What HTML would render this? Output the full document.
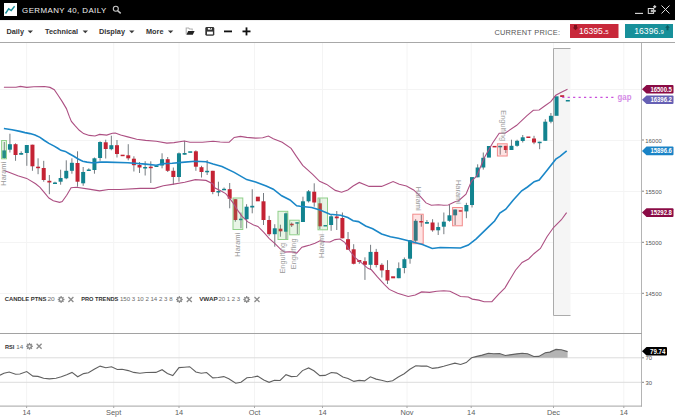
<!DOCTYPE html><html><head><meta charset="utf-8"><style>
html,body{margin:0;padding:0;background:#fff;width:675px;height:420px;overflow:hidden}
svg{display:block;font-family:"Liberation Sans",sans-serif}
.pat{font-size:7.4px;fill:#9a9a9a}
.tagt{font-size:6.4px;font-weight:bold;fill:#fff}
.ax{font-size:5.9px;fill:#555}
.axx{font-size:7.4px;fill:#606060;text-anchor:middle}
.tb{font-size:7.3px;font-weight:bold;fill:#333}
.leg{font-size:6.2px;font-weight:bold;fill:#333}
.legn{font-size:6.2px;fill:#6a6a6a}
</style></head><body>
<svg width="675" height="420" viewBox="0 0 675 420">
<rect x="0" y="0" width="675" height="20" fill="#000"/>
<rect x="4" y="3" width="13" height="13" fill="#fff"/>
<polyline points="5.5,13.5 8.7,8.8 11.2,10.5 14.6,6.3" fill="none" stroke="#1a8f9a" stroke-width="1.4"/>
<text x="22.1" y="12.9" textLength="84.1" lengthAdjust="spacing" style="font-size:7.9px;fill:#f0f0f0">GERMANY 40, DAILY</text>
<g stroke="#c8c8c8" fill="none"><circle cx="115.8" cy="8.8" r="2.5" stroke-width="1.1"/><line x1="117.7" y1="10.7" x2="120.7" y2="13.4" stroke-width="1.5"/></g>
<line x1="635" y1="13.4" x2="643" y2="13.4" stroke="#ddd" stroke-width="1.1"/>
<rect x="648.3" y="8.5" width="5.3" height="4.9" fill="none" stroke="#ddd" stroke-width="1"/><path d="M650.8,9.6 L655.8,10 L655.8,12 L650.8,12.3 Z" fill="#bbb"/><path d="M654.7,5 L656.5,6.8 L654.7,8.6 L652.9,6.8 Z" fill="#d0d0d0"/>
<path d="M661.5,5.5 L669.5,13.5 M669.5,5.5 L661.5,13.5" stroke="#ddd" stroke-width="1"/>
<rect x="0" y="20" width="675" height="22" fill="#fff"/>
<rect x="0" y="42" width="675" height="1" fill="#a8a8a8"/><rect x="0" y="20" width="675" height="1" fill="#f0f0f0"/>
<text x="6.5" y="34.2" class="tb">Daily</text>
<path d="M27.6,30.4 L33.0,30.4 L30.3,33.2 Z" fill="#3a3a3a"/>
<text x="45.0" y="34.2" class="tb">Technical</text>
<path d="M82.6,30.4 L88.0,30.4 L85.3,33.2 Z" fill="#3a3a3a"/>
<text x="99.0" y="34.2" class="tb">Display</text>
<path d="M129.1,30.4 L134.5,30.4 L131.8,33.2 Z" fill="#3a3a3a"/>
<text x="146.0" y="34.2" class="tb">More</text>
<path d="M167.9,30.4 L173.3,30.4 L170.6,33.2 Z" fill="#3a3a3a"/>
<path d="M186.2,34.3 L186.2,28 L188.6,28 L189.6,29 L192.2,29 L192.2,30.6" fill="none" stroke="#b0b0b0" stroke-width="1.1"/><path d="M188.2,31 L194.6,31 L192.8,34.8 L186.4,34.8 Z" fill="#222"/>
<rect x="205.3" y="27" width="9" height="8.7" rx="1.4" fill="#333"/><rect x="207.9" y="28" width="4" height="1.6" fill="#fff"/><rect x="210.1" y="28" width="1" height="1.1" fill="#444"/><rect x="207" y="31.6" width="5.9" height="2.8" fill="#fff"/>
<rect x="224" y="30.5" width="8" height="1.8" fill="#111"/>
<rect x="242.5" y="30.5" width="8" height="1.8" fill="#111"/><rect x="245.6" y="27.4" width="1.8" height="8" fill="#111"/>
<text x="494.4" y="34.7" textLength="65.6" lengthAdjust="spacing" style="font-size:7.4px;fill:#555">CURRENT PRICE:</text>
<rect x="570" y="24" width="48.5" height="14" fill="#c8283a"/>
<path d="M574,25 L577,25 L577,27.5 L578.3,27.5 L575.5,30.3 L572.7,27.5 L574,27.5 Z" fill="#7a0f1c"/>
<text x="579" y="34" style="font-size:8.6px;fill:#fff">16395.<tspan style="font-size:6px">5</tspan></text>
<rect x="625" y="24" width="48" height="14" fill="#17909a"/>
<path d="M666.5,30.3 L668.5,30.3 L668.5,27.8 L669.8,27.8 L667.5,25 L665.2,27.8 L666.5,27.8 Z" fill="#0b5a60"/>
<text x="634.3" y="34" style="font-size:8.6px;fill:#fff">16396.<tspan style="font-size:6px">9</tspan></text>
<line x1="26.6" y1="43" x2="26.6" y2="408" stroke="#f4f4f4" stroke-width="1"/>
<line x1="113.7" y1="43" x2="113.7" y2="408" stroke="#f4f4f4" stroke-width="1"/>
<line x1="179.0" y1="43" x2="179.0" y2="408" stroke="#f4f4f4" stroke-width="1"/>
<line x1="254.5" y1="43" x2="254.5" y2="408" stroke="#f4f4f4" stroke-width="1"/>
<line x1="322.5" y1="43" x2="322.5" y2="408" stroke="#f4f4f4" stroke-width="1"/>
<line x1="407.0" y1="43" x2="407.0" y2="408" stroke="#f4f4f4" stroke-width="1"/>
<line x1="471.2" y1="43" x2="471.2" y2="408" stroke="#f4f4f4" stroke-width="1"/>
<line x1="553.5" y1="43" x2="553.5" y2="408" stroke="#f4f4f4" stroke-width="1"/>
<line x1="623.8" y1="43" x2="623.8" y2="408" stroke="#f4f4f4" stroke-width="1"/>
<line x1="0" y1="89.5" x2="641" y2="89.5" stroke="#f4f4f4" stroke-width="1"/>
<line x1="0" y1="140.5" x2="641" y2="140.5" stroke="#f4f4f4" stroke-width="1"/>
<line x1="0" y1="191.5" x2="641" y2="191.5" stroke="#f4f4f4" stroke-width="1"/>
<line x1="0" y1="242.5" x2="641" y2="242.5" stroke="#f4f4f4" stroke-width="1"/>
<line x1="0" y1="293.5" x2="641" y2="293.5" stroke="#f4f4f4" stroke-width="1"/>
<rect x="553" y="48" width="17.5" height="268" fill="#f5f5f5"/>
<path d="M570.5,48.5 L553.5,48.5 L553.5,315.5 L570.5,315.5" fill="none" stroke="#ababab" stroke-width="1"/>
<g><rect x="3.77" y="142.0" width="1" height="17.0" fill="#767c81"/>
<rect x="9.41" y="133.7" width="1" height="18.8" fill="#767c81"/>
<rect x="15.04" y="143.3" width="1" height="17.5" fill="#767c81"/>
<rect x="20.68" y="151.3" width="1" height="3.4" fill="#767c81"/>
<rect x="26.31" y="145.0" width="1" height="20.8" fill="#767c81"/>
<rect x="31.95" y="144.7" width="1" height="26.1" fill="#767c81"/>
<rect x="37.58" y="158.3" width="1" height="15.9" fill="#767c81"/>
<rect x="43.22" y="160.8" width="1" height="20.9" fill="#767c81"/>
<rect x="48.85" y="175.0" width="1" height="19.2" fill="#767c81"/>
<rect x="54.49" y="181.7" width="1" height="2.0" fill="#767c81"/>
<rect x="60.13" y="169.7" width="1" height="15.0" fill="#767c81"/>
<rect x="65.76" y="160.3" width="1" height="18.9" fill="#767c81"/>
<rect x="71.40" y="158.3" width="1" height="15.4" fill="#767c81"/>
<rect x="77.03" y="151.3" width="1" height="35.4" fill="#767c81"/>
<rect x="82.67" y="167.0" width="1" height="18.8" fill="#767c81"/>
<rect x="88.30" y="168.3" width="1" height="2.4" fill="#767c81"/>
<rect x="93.94" y="157.5" width="1" height="16.2" fill="#767c81"/>
<rect x="99.57" y="141.3" width="1" height="19.5" fill="#767c81"/>
<rect x="105.21" y="139.7" width="1" height="18.8" fill="#767c81"/>
<rect x="110.84" y="135.7" width="1" height="14.6" fill="#767c81"/>
<rect x="116.48" y="140.0" width="1" height="17.5" fill="#767c81"/>
<rect x="127.75" y="144.2" width="1" height="16.1" fill="#767c81"/>
<rect x="133.39" y="156.3" width="1" height="15.2" fill="#767c81"/>
<rect x="139.02" y="162.0" width="1" height="11.0" fill="#767c81"/>
<rect x="144.66" y="161.2" width="1" height="14.3" fill="#767c81"/>
<rect x="150.29" y="161.3" width="1" height="21.7" fill="#767c81"/>
<rect x="161.56" y="153.3" width="1" height="15.0" fill="#767c81"/>
<rect x="167.20" y="157.0" width="1" height="15.0" fill="#767c81"/>
<rect x="172.84" y="167.5" width="1" height="17.2" fill="#767c81"/>
<rect x="178.47" y="152.5" width="1" height="29.2" fill="#767c81"/>
<rect x="184.11" y="140.8" width="1" height="13.9" fill="#767c81"/>
<rect x="195.38" y="150.3" width="1" height="20.5" fill="#767c81"/>
<rect x="201.01" y="165.8" width="1" height="11.7" fill="#767c81"/>
<rect x="206.65" y="160.0" width="1" height="15.0" fill="#767c81"/>
<rect x="212.28" y="170.8" width="1" height="23.4" fill="#767c81"/>
<rect x="217.92" y="181.7" width="1" height="14.5" fill="#767c81"/>
<rect x="223.55" y="187.5" width="1" height="2.5" fill="#767c81"/>
<rect x="229.19" y="183.0" width="1" height="25.3" fill="#767c81"/>
<rect x="234.83" y="199.2" width="1" height="22.5" fill="#767c81"/>
<rect x="240.46" y="212.5" width="1" height="15.8" fill="#767c81"/>
<rect x="246.10" y="204.2" width="1" height="24.1" fill="#767c81"/>
<rect x="251.73" y="189.2" width="1" height="24.1" fill="#767c81"/>
<rect x="263.00" y="193.0" width="1" height="32.0" fill="#767c81"/>
<rect x="268.64" y="215.8" width="1" height="20.0" fill="#767c81"/>
<rect x="274.27" y="224.2" width="1" height="22.5" fill="#767c81"/>
<rect x="279.91" y="224.7" width="1" height="12.0" fill="#767c81"/>
<rect x="285.55" y="212.5" width="1" height="26.7" fill="#767c81"/>
<rect x="291.18" y="222.5" width="1" height="4.5" fill="#767c81"/>
<rect x="296.82" y="222.2" width="1" height="12.0" fill="#767c81"/>
<rect x="302.45" y="196.7" width="1" height="25.3" fill="#767c81"/>
<rect x="308.09" y="190.0" width="1" height="12.5" fill="#767c81"/>
<rect x="313.72" y="183.3" width="1" height="23.4" fill="#767c81"/>
<rect x="319.36" y="198.3" width="1" height="30.9" fill="#767c81"/>
<rect x="330.63" y="215.0" width="1" height="15.8" fill="#767c81"/>
<rect x="336.26" y="211.0" width="1" height="19.0" fill="#767c81"/>
<rect x="341.90" y="212.5" width="1" height="25.8" fill="#767c81"/>
<rect x="347.54" y="232.0" width="1" height="17.7" fill="#767c81"/>
<rect x="353.17" y="244.2" width="1" height="20.2" fill="#767c81"/>
<rect x="358.81" y="260.0" width="1" height="3.8" fill="#767c81"/>
<rect x="364.44" y="257.3" width="1" height="22.6" fill="#767c81"/>
<rect x="370.08" y="244.8" width="1" height="25.0" fill="#767c81"/>
<rect x="375.71" y="248.9" width="1" height="18.5" fill="#767c81"/>
<rect x="381.35" y="263.2" width="1" height="14.3" fill="#767c81"/>
<rect x="386.98" y="260.2" width="1" height="23.8" fill="#767c81"/>
<rect x="398.25" y="262.4" width="1" height="15.8" fill="#767c81"/>
<rect x="403.89" y="257.5" width="1" height="15.8" fill="#767c81"/>
<rect x="409.53" y="240.0" width="1" height="23.7" fill="#767c81"/>
<rect x="415.16" y="219.2" width="1" height="23.3" fill="#767c81"/>
<rect x="420.80" y="214.7" width="1" height="12.0" fill="#767c81"/>
<rect x="426.43" y="220.0" width="1" height="3.7" fill="#767c81"/>
<rect x="432.07" y="219.2" width="1" height="12.5" fill="#767c81"/>
<rect x="437.70" y="222.5" width="1" height="12.5" fill="#767c81"/>
<rect x="443.34" y="212.5" width="1" height="21.7" fill="#767c81"/>
<rect x="448.97" y="205.0" width="1" height="16.7" fill="#767c81"/>
<rect x="454.61" y="209.5" width="1" height="15.5" fill="#767c81"/>
<rect x="465.88" y="202.8" width="1" height="15.4" fill="#767c81"/>
<rect x="471.52" y="177.1" width="1" height="30.4" fill="#767c81"/>
<rect x="477.15" y="164.3" width="1" height="13.0" fill="#767c81"/>
<rect x="482.79" y="152.5" width="1" height="17.1" fill="#767c81"/>
<rect x="499.69" y="145.8" width="1" height="8.9" fill="#767c81"/>
<rect x="505.33" y="145.8" width="1" height="7.2" fill="#767c81"/>
<rect x="510.97" y="139.7" width="1" height="10.3" fill="#767c81"/>
<rect x="516.60" y="139.7" width="1" height="7.0" fill="#767c81"/>
<rect x="522.24" y="135.0" width="1" height="7.5" fill="#767c81"/>
<rect x="533.51" y="135.8" width="1" height="8.4" fill="#767c81"/>
<rect x="539.14" y="141.7" width="1" height="7.5" fill="#767c81"/>
<rect x="544.78" y="119.2" width="1" height="21.6" fill="#767c81"/>
<rect x="550.41" y="113.0" width="1" height="10.3" fill="#767c81"/></g><g><rect x="2.27" y="150.4" width="4" height="7.7" fill="#12838f"/>
<rect x="7.91" y="144.2" width="4" height="5.5" fill="#12838f"/>
<rect x="13.54" y="144.2" width="4" height="10.8" fill="#c42334"/>
<rect x="19.18" y="153.0" width="4" height="1.7" fill="#12838f"/>
<rect x="24.81" y="145.0" width="4" height="8.0" fill="#12838f"/>
<rect x="30.45" y="144.7" width="4" height="21.6" fill="#c42334"/>
<rect x="36.08" y="166.7" width="4" height="1.5" fill="#c42334"/>
<rect x="41.72" y="168.0" width="4" height="12.0" fill="#c42334"/>
<rect x="47.35" y="180.8" width="4" height="1.7" fill="#c42334"/>
<rect x="52.99" y="182.5" width="4" height="1.5" fill="#12838f"/>
<rect x="58.63" y="178.0" width="4" height="3.7" fill="#12838f"/>
<rect x="64.26" y="170.8" width="4" height="7.5" fill="#12838f"/>
<rect x="69.90" y="162.8" width="4" height="8.0" fill="#12838f"/>
<rect x="75.53" y="163.0" width="4" height="18.7" fill="#c42334"/>
<rect x="81.17" y="172.0" width="4" height="11.3" fill="#12838f"/>
<rect x="86.80" y="169.5" width="4" height="1.5" fill="#12838f"/>
<rect x="92.44" y="158.3" width="4" height="11.7" fill="#12838f"/>
<rect x="98.07" y="142.0" width="4" height="16.0" fill="#12838f"/>
<rect x="103.71" y="142.3" width="4" height="6.7" fill="#c42334"/>
<rect x="109.34" y="145.2" width="4" height="4.0" fill="#12838f"/>
<rect x="114.98" y="145.2" width="4" height="8.8" fill="#c42334"/>
<rect x="120.62" y="154.7" width="4" height="1.5" fill="#c42334"/>
<rect x="126.25" y="155.3" width="4" height="3.0" fill="#c42334"/>
<rect x="131.89" y="158.7" width="4" height="6.5" fill="#c42334"/>
<rect x="137.52" y="165.0" width="4" height="2.5" fill="#c42334"/>
<rect x="143.16" y="167.0" width="4" height="1.5" fill="#12838f"/>
<rect x="148.79" y="166.7" width="4" height="1.5" fill="#c42334"/>
<rect x="154.43" y="165.5" width="4" height="1.5" fill="#12838f"/>
<rect x="160.06" y="159.2" width="4" height="6.3" fill="#12838f"/>
<rect x="165.70" y="159.2" width="4" height="11.6" fill="#c42334"/>
<rect x="171.34" y="170.8" width="4" height="6.2" fill="#c42334"/>
<rect x="176.97" y="153.3" width="4" height="23.7" fill="#12838f"/>
<rect x="182.61" y="153.0" width="4" height="1.7" fill="#12838f"/>
<rect x="188.24" y="151.3" width="4" height="1.5" fill="#12838f"/>
<rect x="193.88" y="151.3" width="4" height="15.4" fill="#c42334"/>
<rect x="199.51" y="167.2" width="4" height="4.8" fill="#c42334"/>
<rect x="205.15" y="170.8" width="4" height="1.5" fill="#12838f"/>
<rect x="210.78" y="170.8" width="4" height="21.2" fill="#c42334"/>
<rect x="216.42" y="191.0" width="4" height="1.5" fill="#12838f"/>
<rect x="222.05" y="188.8" width="4" height="1.5" fill="#12838f"/>
<rect x="227.69" y="189.2" width="4" height="9.5" fill="#c42334"/>
<rect x="233.33" y="199.2" width="4" height="20.8" fill="#c42334"/>
<rect x="238.96" y="218.7" width="4" height="1.5" fill="#12838f"/>
<rect x="244.60" y="206.7" width="4" height="12.5" fill="#12838f"/>
<rect x="250.23" y="205.8" width="4" height="1.7" fill="#12838f"/>
<rect x="255.87" y="196.7" width="4" height="4.6" fill="#c42334"/>
<rect x="261.50" y="201.3" width="4" height="18.7" fill="#c42334"/>
<rect x="267.14" y="220.0" width="4" height="14.2" fill="#c42334"/>
<rect x="272.77" y="228.3" width="4" height="5.9" fill="#12838f"/>
<rect x="278.41" y="228.7" width="4" height="2.6" fill="#c42334"/>
<rect x="284.05" y="213.3" width="4" height="18.4" fill="#12838f"/>
<rect x="289.68" y="223.7" width="4" height="1.6" fill="#c42334"/>
<rect x="295.32" y="222.2" width="4" height="1.5" fill="#12838f"/>
<rect x="300.95" y="201.3" width="4" height="20.7" fill="#12838f"/>
<rect x="306.59" y="191.3" width="4" height="10.0" fill="#12838f"/>
<rect x="312.22" y="191.7" width="4" height="10.8" fill="#c42334"/>
<rect x="317.86" y="203.3" width="4" height="23.0" fill="#c42334"/>
<rect x="323.49" y="225.0" width="4" height="1.5" fill="#12838f"/>
<rect x="329.13" y="216.3" width="4" height="8.7" fill="#12838f"/>
<rect x="334.76" y="216.5" width="4" height="1.8" fill="#c42334"/>
<rect x="340.40" y="218.0" width="4" height="20.3" fill="#c42334"/>
<rect x="346.04" y="239.2" width="4" height="10.5" fill="#c42334"/>
<rect x="351.67" y="249.3" width="4" height="14.5" fill="#c42334"/>
<rect x="357.31" y="260.0" width="4" height="2.0" fill="#c42334"/>
<rect x="362.94" y="261.2" width="4" height="3.6" fill="#c42334"/>
<rect x="368.58" y="251.9" width="4" height="12.9" fill="#12838f"/>
<rect x="374.21" y="251.9" width="4" height="13.1" fill="#c42334"/>
<rect x="379.85" y="264.8" width="4" height="5.6" fill="#c42334"/>
<rect x="385.48" y="270.0" width="4" height="10.5" fill="#c42334"/>
<rect x="391.12" y="276.3" width="4" height="2.0" fill="#c42334"/>
<rect x="396.75" y="268.2" width="4" height="10.0" fill="#12838f"/>
<rect x="402.39" y="259.2" width="4" height="8.8" fill="#12838f"/>
<rect x="408.03" y="240.3" width="4" height="18.4" fill="#12838f"/>
<rect x="413.66" y="220.8" width="4" height="19.9" fill="#12838f"/>
<rect x="419.30" y="221.0" width="4" height="1.5" fill="#c42334"/>
<rect x="424.93" y="222.0" width="4" height="1.7" fill="#12838f"/>
<rect x="430.57" y="222.5" width="4" height="7.8" fill="#c42334"/>
<rect x="436.20" y="227.0" width="4" height="3.3" fill="#12838f"/>
<rect x="441.84" y="221.7" width="4" height="5.0" fill="#12838f"/>
<rect x="447.47" y="215.3" width="4" height="5.5" fill="#12838f"/>
<rect x="453.11" y="209.5" width="4" height="5.8" fill="#12838f"/>
<rect x="458.75" y="210.2" width="4" height="1.5" fill="#c42334"/>
<rect x="464.38" y="205.0" width="4" height="6.4" fill="#12838f"/>
<rect x="470.02" y="177.1" width="4" height="27.9" fill="#12838f"/>
<rect x="475.65" y="167.5" width="4" height="9.8" fill="#12838f"/>
<rect x="481.29" y="157.8" width="4" height="9.7" fill="#12838f"/>
<rect x="486.92" y="146.0" width="4" height="11.6" fill="#12838f"/>
<rect x="492.56" y="145.9" width="4" height="1.5" fill="#c42334"/>
<rect x="498.19" y="145.8" width="4" height="1.5" fill="#12838f"/>
<rect x="503.83" y="145.8" width="4" height="4.2" fill="#c42334"/>
<rect x="509.47" y="145.8" width="4" height="4.2" fill="#12838f"/>
<rect x="515.10" y="140.8" width="4" height="5.0" fill="#12838f"/>
<rect x="520.74" y="137.3" width="4" height="3.7" fill="#12838f"/>
<rect x="526.37" y="136.5" width="4" height="1.5" fill="#c42334"/>
<rect x="532.01" y="138.5" width="4" height="4.0" fill="#c42334"/>
<rect x="537.64" y="141.7" width="4" height="1.5" fill="#12838f"/>
<rect x="543.28" y="121.7" width="4" height="19.1" fill="#12838f"/>
<rect x="548.91" y="115.8" width="4" height="5.9" fill="#12838f"/>
<rect x="554.55" y="96.3" width="4" height="19.5" fill="#12838f"/>
<rect x="560.18" y="95.2" width="4" height="1.8" fill="#c42334"/>
<rect x="565.82" y="100.0" width="4" height="1.5" fill="#12838f"/></g>
<rect x="1.6" y="140.5" width="4.8" height="18.3" fill="rgba(120,195,105,0.17)" stroke="#8fd08a" stroke-width="1"/>
<rect x="233.0" y="198.0" width="9.8" height="31.5" fill="rgba(120,195,105,0.17)" stroke="#8fd08a" stroke-width="1"/>
<rect x="278.0" y="211.3" width="9.8" height="28.2" fill="rgba(120,195,105,0.17)" stroke="#8fd08a" stroke-width="1"/>
<rect x="289.7" y="220.2" width="9.5" height="14.6" fill="rgba(120,195,105,0.17)" stroke="#8fd08a" stroke-width="1"/>
<rect x="318.0" y="198.0" width="9.5" height="31.8" fill="rgba(120,195,105,0.17)" stroke="#8fd08a" stroke-width="1"/>
<rect x="412.8" y="214.2" width="10.4" height="29.5" fill="rgba(245,70,70,0.15)" stroke="#f28a8a" stroke-width="1"/>
<rect x="452.6" y="207.5" width="9.7" height="18.3" fill="rgba(245,70,70,0.15)" stroke="#f28a8a" stroke-width="1"/>
<rect x="497.4" y="143.8" width="9.8" height="12.2" fill="rgba(245,70,70,0.15)" stroke="#f28a8a" stroke-width="1"/>
<polyline points="3.9,87.2 16.0,87.2 20.4,86.4 26.7,87.4 33.8,86.7 44.4,86.5 50.0,87.4 54.3,89.7 57.9,95.0 62.1,101.4 66.4,108.6 69.3,116.4 71.4,121.4 75.0,125.7 79.3,130.3 83.6,133.6 89.3,135.4 95.0,136.0 99.6,134.4 106.7,135.1 112.4,133.3 115.3,133.0 120.7,135.1 127.8,136.9 136.7,139.2 145.6,140.4 156.2,141.3 166.9,143.1 174.0,142.6 184.3,141.0 190.0,142.2 202.4,142.2 213.1,141.3 220.2,142.0 224.4,142.2 229.2,142.2 234.2,137.4 240.4,136.4 246.7,137.4 255.6,138.1 262.7,137.8 268.4,136.0 273.3,138.7 282.2,142.2 291.1,148.4 296.4,156.4 302.7,165.3 312.4,174.2 319.6,181.3 326.7,184.4 335.3,190.4 341.6,192.2 347.8,189.9 353.1,186.0 359.3,182.4 369.1,186.4 381.6,186.4 386.9,184.2 393.1,181.6 399.3,184.2 406.4,186.0 413.6,189.9 418.9,194.9 426.0,202.9 431.3,205.2 438.4,204.7 443.8,205.2 448.3,205.0 455.0,201.7 458.6,200.7 466.0,194.2 471.4,181.4 476.8,176.0 484.3,157.8 492.8,142.8 499.2,133.3 505.0,133.2 516.7,125.3 526.7,115.8 533.3,110.3 539.2,110.0 545.0,105.8 550.8,101.7 555.8,95.3 560.8,92.5 567.5,89.2" fill="none" stroke="#ad5083" stroke-width="1.1"/>
<polyline points="3.9,170.4 8.9,172.2 17.8,175.8 26.7,178.4 35.6,183.8 40.0,187.3 44.4,192.7 48.9,198.0 53.3,200.7 59.6,202.4 62.2,201.6 66.7,195.3 71.1,187.7 76.4,187.3 88.9,189.1 99.6,190.9 108.4,189.5 120.0,189.5 140.2,188.4 154.4,188.4 163.3,185.8 172.2,184.4 184.7,182.2 195.3,179.6 206.0,180.4 213.1,184.0 215.0,188.1 220.7,190.7 225.7,193.6 229.3,197.9 233.6,203.6 237.9,210.7 242.1,216.4 247.9,221.9 253.6,225.0 257.9,226.4 263.6,232.1 269.3,238.6 275.0,243.6 281.0,249.6 284.8,252.1 289.5,251.7 293.3,252.1 296.7,253.1 301.9,247.2 305.0,246.4 310.0,245.0 315.0,243.2 320.0,240.8 325.0,241.8 330.0,242.0 335.0,239.6 340.0,239.0 345.0,242.6 349.6,250.5 354.8,257.3 361.9,263.2 367.9,268.3 371.4,269.8 377.4,276.9 384.5,284.6 389.3,289.4 397.6,293.3 408.2,296.5 415.3,295.1 421.6,291.9 429.6,292.4 436.7,291.2 443.8,290.7 450.0,291.2 460.5,296.5 468.3,297.0 472.3,299.1 478.8,300.1 484.1,301.7 491.9,301.7 498.5,294.4 505.0,287.8 515.5,270.2 522.1,262.4 528.6,259.0 533.9,253.7 540.4,248.5 547.0,236.7 553.5,227.5 561.4,219.7 566.6,212.6" fill="none" stroke="#ad5083" stroke-width="1.1"/>
<polyline points="3.9,128.5 12.0,129.8 20.0,131.4 25.0,132.6 30.0,133.6 35.0,135.0 40.0,137.4 44.4,140.5 48.9,143.4 54.2,146.1 57.8,148.3 60.9,150.3 65.3,151.4 69.3,153.7 73.8,156.3 78.2,159.0 82.7,161.2 87.1,162.1 91.6,162.7 95.1,162.7 100.0,162.1 106.7,162.1 127.8,162.7 145.6,164.1 156.2,165.3 163.3,163.6 172.2,163.2 184.7,162.1 195.3,161.2 206.0,161.8 213.1,164.1 222.0,166.6 234.2,172.4 246.7,179.6 255.6,181.9 266.2,186.1 273.3,189.2 281.7,195.8 290.0,200.0 296.7,205.8 300.0,206.3 311.7,207.5 320.0,210.0 330.0,214.2 340.7,215.3 347.8,217.6 353.1,220.7 358.4,221.6 365.6,226.0 372.7,228.7 381.6,234.0 390.4,236.7 398.3,238.3 408.3,240.8 416.7,243.0 422.4,244.4 432.2,248.5 440.2,247.5 450.0,247.7 460.5,248.0 468.3,245.1 476.2,238.8 489.3,226.2 494.6,221.0 499.8,213.1 505.8,209.2 513.3,200.0 521.7,190.8 527.5,187.0 534.2,181.7 539.2,180.0 546.7,170.8 555.8,159.2 560.0,156.3 566.7,150.8" fill="none" stroke="#1a87c8" stroke-width="1.6"/>
<text transform="translate(6.4,185.7) rotate(-90)" class="pat">Harami</text>
<text transform="translate(240.2,256.7) rotate(-90)" class="pat">Harami</text>
<text transform="translate(285.4,273.6) rotate(-90)" class="pat">Engulfing</text>
<text transform="translate(295.8,269.3) rotate(-90)" class="pat">Engulfing</text>
<text transform="translate(324.0,257.9) rotate(-90)" class="pat">Harami</text>
<text transform="translate(416.3,186.8) rotate(90)" class="pat">Harami</text>
<text transform="translate(455.5,180.0) rotate(90)" class="pat">Harami</text>
<text transform="translate(501.3,110.2) rotate(90)" class="pat">Engulfing</text>
<line x1="562.2" y1="97.3" x2="615" y2="97.3" stroke="#c94fdc" stroke-width="1.2" stroke-dasharray="2.2 3.25"/>
<text x="617.55" y="99.70" textLength="13.90" lengthAdjust="spacingAndGlyphs" style="font-size:8.2px;font-weight:bold;fill:#d48ae6">gap</text>
<rect x="641" y="43" width="1" height="363.5" fill="#b4b4b4"/>
<rect x="642" y="139.5" width="2" height="1" fill="#888"/>
<text x="645.3" y="142.6" class="ax">16000</text>
<rect x="642" y="190.7" width="2" height="1" fill="#888"/>
<text x="645.3" y="193.8" class="ax">15500</text>
<rect x="642" y="241.8" width="2" height="1" fill="#888"/>
<text x="645.3" y="244.9" class="ax">15000</text>
<rect x="642" y="292.8" width="2" height="1" fill="#888"/>
<text x="645.3" y="295.9" class="ax">14500</text>
<path d="M642.0,89.3 L646.5,85.0 L672.5,85.0 Q673.5,85.0 673.5,86.0 L673.5,92.6 Q673.5,93.6 672.5,93.6 L646.5,93.6 Z" fill="#8a0b45"/><text x="650.45" y="91.55" textLength="21.50" lengthAdjust="spacingAndGlyphs" class="tagt">16500.5</text>
<path d="M642.0,99.8 L646.5,95.5 L672.5,95.5 Q673.5,95.5 673.5,96.5 L673.5,103.1 Q673.5,104.1 672.5,104.1 L646.5,104.1 Z" fill="#6660b4"/><text x="650.45" y="102.05" textLength="21.50" lengthAdjust="spacingAndGlyphs" class="tagt">16396.2</text>
<path d="M642.0,150.9 L646.5,146.6 L672.5,146.6 Q673.5,146.6 673.5,147.6 L673.5,154.2 Q673.5,155.2 672.5,155.2 L646.5,155.2 Z" fill="#1a83c6"/><text x="650.45" y="153.15" textLength="21.50" lengthAdjust="spacingAndGlyphs" class="tagt">15896.6</text>
<path d="M642.0,212.6 L646.5,208.3 L672.5,208.3 Q673.5,208.3 673.5,209.3 L673.5,215.9 Q673.5,216.9 672.5,216.9 L646.5,216.9 Z" fill="#8a0b45"/><text x="650.45" y="214.85" textLength="21.50" lengthAdjust="spacingAndGlyphs" class="tagt">15292.8</text>
<text x="4.75" y="301.00" textLength="41.80" lengthAdjust="spacingAndGlyphs" class="leg">CANDLE PTNS</text>
<text x="47.45" y="301.00" textLength="7.30" lengthAdjust="spacingAndGlyphs" class="legn">20</text>
<g transform="translate(61.1,299.5)"><g stroke="#8c8c8c" stroke-width="1.3"><line x1="0" y1="-3.4" x2="0" y2="3.4"/><line x1="-3.4" y1="0" x2="3.4" y2="0"/><line x1="-2.4" y1="-2.4" x2="2.4" y2="2.4"/><line x1="-2.4" y1="2.4" x2="2.4" y2="-2.4"/></g><circle r="2.5" fill="#8c8c8c"/><circle r="1.15" fill="#fff"/></g>
<g transform="translate(70.9,299.5)" stroke="#8c8c8c" stroke-width="1.3"><line x1="-2.5" y1="-2.5" x2="2.5" y2="2.5"/><line x1="-2.5" y1="2.5" x2="2.5" y2="-2.5"/></g>
<text x="81.25" y="301.00" textLength="37.10" lengthAdjust="spacingAndGlyphs" class="leg">PRO TRENDS</text>
<text x="119.95" y="301.00" textLength="52.60" lengthAdjust="spacingAndGlyphs" class="legn">150 3 10 2 14 2 3 8</text>
<g transform="translate(179.4,299.5)"><g stroke="#8c8c8c" stroke-width="1.3"><line x1="0" y1="-3.4" x2="0" y2="3.4"/><line x1="-3.4" y1="0" x2="3.4" y2="0"/><line x1="-2.4" y1="-2.4" x2="2.4" y2="2.4"/><line x1="-2.4" y1="2.4" x2="2.4" y2="-2.4"/></g><circle r="2.5" fill="#8c8c8c"/><circle r="1.15" fill="#fff"/></g>
<g transform="translate(189.3,299.5)" stroke="#8c8c8c" stroke-width="1.3"><line x1="-2.5" y1="-2.5" x2="2.5" y2="2.5"/><line x1="-2.5" y1="2.5" x2="2.5" y2="-2.5"/></g>
<text x="199.15" y="301.00" textLength="18.70" lengthAdjust="spacingAndGlyphs" class="leg">VWAP</text>
<text x="218.45" y="301.00" textLength="21.70" lengthAdjust="spacingAndGlyphs" class="legn">20 1 2 3</text>
<g transform="translate(246.7,299.5)"><g stroke="#8c8c8c" stroke-width="1.3"><line x1="0" y1="-3.4" x2="0" y2="3.4"/><line x1="-3.4" y1="0" x2="3.4" y2="0"/><line x1="-2.4" y1="-2.4" x2="2.4" y2="2.4"/><line x1="-2.4" y1="2.4" x2="2.4" y2="-2.4"/></g><circle r="2.5" fill="#8c8c8c"/><circle r="1.15" fill="#fff"/></g>
<g transform="translate(257.0,299.5)" stroke="#8c8c8c" stroke-width="1.3"><line x1="-2.5" y1="-2.5" x2="2.5" y2="2.5"/><line x1="-2.5" y1="2.5" x2="2.5" y2="-2.5"/></g>
<rect x="0" y="333" width="642" height="1" fill="#a2a2a2"/>
<line x1="0" y1="357.8" x2="641" y2="357.8" stroke="#dcdcdc" stroke-width="1"/>
<line x1="0" y1="382.3" x2="641" y2="382.3" stroke="#dcdcdc" stroke-width="1"/>
<polygon points="471.6,357.8 471.6,357.8 476.9,356.4 482.2,355.1 488.4,353.3 493.8,353.7 499.5,353.5 505.3,355.5 511.6,354.6 516.9,353.9 522.2,353.2 527.6,353.7 533.8,356.5 538.8,356.4 545.3,352.8 549.8,352.1 556.0,349.4 561.3,349.8 567.6,351.6 567.6,357.8" fill="#b4b4b4"/>
<polyline points="0.0,375.2 3.9,373.2 9.2,372.0 15.6,374.3 19.9,374.0 26.7,371.6 32.9,376.1 37.9,376.4 43.6,378.2 49.4,378.9 56.0,378.2 61.3,376.8 66.7,374.7 72.0,372.4 77.7,376.8 83.6,373.6 88.4,372.7 94.2,369.3 100.1,366.1 105.8,367.7 111.5,366.8 117.3,369.5 122.1,369.3 128.3,370.6 133.7,372.4 139.9,373.2 146.1,372.5 155.9,372.4 162.1,369.7 167.4,373.4 172.8,375.6 179.0,367.6 184.3,367.2 189.7,366.7 195.9,372.0 201.2,373.2 206.6,372.5 212.8,377.9 218.1,377.5 223.8,376.6 228.8,378.8 235.7,383.2 241.0,382.3 246.9,377.7 252.2,377.3 257.6,376.1 263.8,380.0 269.1,382.3 274.4,380.2 280.1,380.5 286.0,374.7 291.3,376.6 297.0,376.3 302.5,370.6 308.6,367.9 313.9,370.8 319.8,375.6 325.1,375.4 331.3,372.5 336.7,373.1 342.9,377.0 348.0,378.5 353.9,381.4 359.2,380.4 364.6,380.9 370.4,376.8 376.1,379.1 381.4,380.2 387.3,381.8 392.6,380.7 398.3,377.0 404.2,373.8 409.9,369.3 415.8,365.8 421.4,366.1 426.8,366.1 432.5,368.4 438.3,367.6 443.7,366.3 449.9,364.5 454.9,363.1 460.6,364.5 466.2,362.6 471.6,357.8 476.9,356.4 482.2,355.1 488.4,353.3 493.8,353.7 499.5,353.5 505.3,355.5 511.6,354.6 516.9,353.9 522.2,353.2 527.6,353.7 533.8,356.5 538.8,356.4 545.3,352.8 549.8,352.1 556.0,349.4 561.3,349.8 567.6,351.6" fill="none" stroke="#606060" stroke-width="1.1"/>
<text x="4.95" y="348.50" textLength="9.40" lengthAdjust="spacingAndGlyphs" class="leg">RSI</text>
<text x="16.35" y="348.50" textLength="7.00" lengthAdjust="spacingAndGlyphs" class="legn">14</text>
<g transform="translate(29.5,346.3)"><g stroke="#8c8c8c" stroke-width="1.3"><line x1="0" y1="-3.4" x2="0" y2="3.4"/><line x1="-3.4" y1="0" x2="3.4" y2="0"/><line x1="-2.4" y1="-2.4" x2="2.4" y2="2.4"/><line x1="-2.4" y1="2.4" x2="2.4" y2="-2.4"/></g><circle r="2.5" fill="#8c8c8c"/><circle r="1.15" fill="#fff"/></g>
<g transform="translate(39.1,346.3)" stroke="#8c8c8c" stroke-width="1.3"><line x1="-2.5" y1="-2.5" x2="2.5" y2="2.5"/><line x1="-2.5" y1="2.5" x2="2.5" y2="-2.5"/></g>
<rect x="642" y="381.8" width="2" height="1" fill="#888"/><rect x="642" y="357.3" width="2" height="1" fill="#888"/>
<text x="645.5" y="384.5" class="ax">30</text>
<text x="645.5" y="360" class="ax">70</text>
<path d="M642.0,351.3 L646.5,347.1 L666.0,347.1 Q667.0,347.1 667.0,348.1 L667.0,354.5 Q667.0,355.5 666.0,355.5 L646.5,355.5 Z" fill="#000"/><text x="650.05" y="353.55" textLength="15.40" lengthAdjust="spacingAndGlyphs" class="tagt">79.74</text>
<rect x="0" y="405.6" width="642" height="1" fill="#a4a4a4"/>
<rect x="26.1" y="406" width="1" height="2" fill="#aaa"/>
<text x="26.6" y="414.9" class="axx">14</text>
<rect x="113.2" y="406" width="1" height="2" fill="#aaa"/>
<text x="113.7" y="414.9" class="axx">Sept</text>
<rect x="178.5" y="406" width="1" height="2" fill="#aaa"/>
<text x="179.0" y="414.9" class="axx">14</text>
<rect x="254.0" y="406" width="1" height="2" fill="#aaa"/>
<text x="254.5" y="414.9" class="axx">Oct</text>
<rect x="322.0" y="406" width="1" height="2" fill="#aaa"/>
<text x="322.5" y="414.9" class="axx">14</text>
<rect x="406.5" y="406" width="1" height="2" fill="#aaa"/>
<text x="407.0" y="414.9" class="axx">Nov</text>
<rect x="470.7" y="406" width="1" height="2" fill="#aaa"/>
<text x="471.2" y="414.9" class="axx">14</text>
<rect x="553.0" y="406" width="1" height="2" fill="#aaa"/>
<text x="553.5" y="414.9" class="axx">Dec</text>
<rect x="623.3" y="406" width="1" height="2" fill="#aaa"/>
<text x="623.8" y="414.9" class="axx">14</text>
</svg></body></html>
